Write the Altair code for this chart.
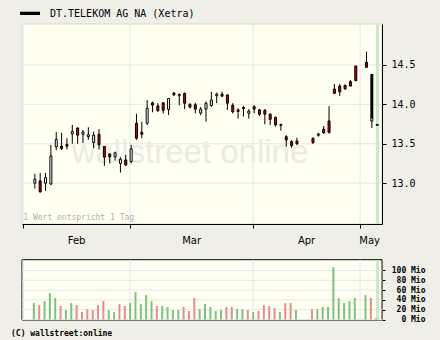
import altair as alt
import pandas as pd
import numpy as np

# ---------------- data ----------------
holidays = ["2006-04-14", "2006-04-17", "2006-05-01"]
dates = [d for d in pd.bdate_range("2006-02-03", "2006-05-04").strftime("%Y-%m-%d") if d not in holidays]

opens = [13.00, 13.03, 13.00, 12.99, 13.46, 13.47, 13.49, 13.625, 13.70, 13.62, 13.59, 13.515, 13.62, 13.465, 13.37, 13.335, 13.25, 13.295,
         13.275, 13.76, 13.645, 13.76, 14.02, 13.98, 14.02, 13.935, 14.145, 14.11, 14.14, 14.00, 13.995, 13.89, 13.94, 13.985, 14.11, 14.13, 14.12, 13.99, 13.93, 13.96, 13.887,
         13.97, 13.93, 13.925, 13.875, 13.835, 13.747, 13.59, 13.527, 13.535, 13.57, 13.608, 13.684, 13.79, 14.195, 14.233, 14.242, 14.288, 14.487,
         14.534, 13.79, 13.745]
closes = [13.05, 12.89, 13.07, 13.345, 13.555, 13.44, 13.47, 13.655, 13.61, 13.65, 13.615, 13.61, 13.485, 13.33, 13.335, 13.385, 13.305, 13.23,
          13.435, 13.57, 13.62, 13.95, 13.99, 13.92, 13.925, 14.075, 14.12, 14.125, 14.015, 13.965, 13.94, 13.94, 14.015, 14.055, 14.13, 14.105, 14.015, 13.905, 13.91, 13.945, 13.915,
          13.94, 13.875, 13.875, 13.81, 13.74, 13.735, 13.548, 13.476, 13.50, 13.514, 13.624, 13.64, 13.64, 14.14, 14.16, 14.195, 14.233, 14.30,
          14.47, 13.827, 13.735]
highs = [13.12, 13.13, 13.13, 13.485, 13.65, 13.64, 13.57, 13.74, 13.71, 13.675, 13.71, 13.655, 13.685, 13.47, 13.38, 13.40, 13.33, 13.36,
         13.485, 13.88, 13.78, 14.055, 14.035, 14.015, 14.025, 14.08, 14.155, 14.14, 14.15, 14.015, 14.02, 13.965, 14.035, 14.16, 14.15, 14.16, 14.12, 14.015, 13.95, 13.98, 13.94,
         13.99, 13.94, 13.94, 13.887, 13.845, 13.75, 13.61, 13.548, 13.58, 13.58, 13.64, 13.726, 13.98, 14.26, 14.26, 14.25, 14.31, 14.49,
         14.669, 13.827, 13.75]
lows = [12.93, 12.88, 12.90, 12.975, 13.42, 13.42, 13.43, 13.50, 13.50, 13.51, 13.55, 13.445, 13.43, 13.22, 13.25, 13.285, 13.135, 13.22,
        13.25, 13.55, 13.57, 13.74, 13.90, 13.905, 13.885, 13.865, 14.105, 13.99, 13.94, 13.95, 13.885, 13.865, 13.78, 13.97, 14.015, 14.09, 13.93, 13.885, 13.82, 13.845, 13.82,
        13.887, 13.853, 13.747, 13.738, 13.717, 13.666, 13.463, 13.45, 13.485, 13.50, 13.59, 13.624, 13.64, 14.14, 14.107, 14.19, 14.225, 14.30,
        14.47, 13.70, 13.73]
volumes = [33.5, 29.4, 37.6, 53.8, 43.7, 27.4, 19.3, 33.5, 29.4, 15.2, 21.3, 19.3, 29.4, 37.6, 19.3, 15.2, 31.5, 27.4,
           33.5, 55.8, 31.5, 49.7, 37.6, 27.4, 27.4, 25.4, 19.3, 19.3, 25.4, 17.3, 43.7, 21.3, 31.5, 25.4, 17.3, 19.3, 25.4, 25.4, 21.3, 21.3, 19.3,
           15.2, 17.3, 29.4, 27.4, 23.4, 15.2, 33.5, 33.5, 19.3, 21.3, 21.3, 25.4, 25.4, 106.6, 43.7, 33.5, 37.6, 43.7,
           49.7, 43.7, 3.0]
vol_dir = ["up", "down", "up", "up", "up", "down", "up", "up", "down", "down", "down", "down", "down", "down", "up", "up", "down", "down",
           "up", "up", "up", "up", "up", "down", "up", "up", "up", "up", "down", "down", "down", "up", "up", "up", "up", "up", "down", "down", "up", "up", "down",
           "up", "down", "down", "down", "down", "up", "down", "down", "up", "down", "up", "up", "up", "up", "up", "up", "up", "up",
           "up", "down", "down"]

# dividend markdown bar (3 May 2006)
div_date = ["2006-05-03"]
div_from = [14.386]
div_to = [13.827]

month_starts = ["2006-02-01", "2006-03-01", "2006-04-01", "2006-05-01"]
month_labels = ["Feb", "Mar", "Apr", "May"]
month_label_pos = [10.0, 31.5, 53.0, 64.8]
price_ticks = [13.0, 13.5, 14.0, 14.5]
vol_ticks = [0, 20, 40, 60, 80, 100]

title_text = "DT.TELEKOM AG NA (Xetra)"
note_text = "1 Wert entspricht 1 Tag"
copyright_text = "(C) wallstreet:online"
watermark_text = "wallstreet online"

# ---------------- frames ----------------
def slot(d):
    return int(np.busday_count("2006-02-01", d))

df = pd.DataFrame({"date": dates, "open": opens, "close": closes, "high": highs, "low": lows,
                   "vol": volumes, "dir": vol_dir})
df["x"] = [slot(d) + 0.2 for d in df["date"]]
df["body"] = np.where(df["close"] < df["open"], "#cc0000", "#ffffff")

div_df = pd.DataFrame({"x": [slot(d) + 0.2 for d in div_date], "a": div_from, "b": div_to})
last = df["x"].iloc[-1]
band_df = pd.DataFrame({"x1": [last - 0.2], "x2": [last + 0.35]})
ms_df = pd.DataFrame({"x": [slot(d) for d in month_starts]})
ml_df = pd.DataFrame({"x": month_label_pos, "t": month_labels})
pt_df = pd.DataFrame({"v": price_ticks})
vt_df = pd.DataFrame({"v": vol_ticks})
one = pd.DataFrame({"a": [0]})

W, H = 360, 296
PTOP, PBOT = 0, 200
VTOP, VBOT = 235.7, 296

BG = "#efefe7"
PANEL = "#fffff2"
GRID = "#e6e6ec"

xscale = alt.Scale(domain=[-0.2, 67.1], nice=False, zero=False, padding=0)
xaxis = alt.Axis(values=[0, 20, 43, 63], labels=False, grid=False, tickSize=4, tickColor="black",
                 domainColor="black", offset=-96, title=None, zindex=1)
X = alt.X("x:Q", scale=xscale, axis=xaxis)

pscale = alt.Scale(domain=[12.482, 15.02], range=[PBOT, PTOP], nice=False, zero=False, padding=0)
vscale = alt.Scale(domain=[0, 122], range=[295.5, VTOP], nice=False, zero=False, padding=0)

paxis = alt.Axis(orient="right", values=price_ticks, format=".1f", grid=False, tickSize=4,
                 tickColor="black", domainColor="black", labelFont="DejaVu Sans Mono",
                 labelFontSize=10, labelColor="black", labelPadding=5, title=None, zindex=1,
                 labelOverlap=False)
vaxis = alt.Axis(orient="right", values=vol_ticks, labelExpr="datum.value + ' Mio'", grid=False,
                 tickSize=3, tickColor="black", domain=False, labelFont="DejaVu Sans Mono",
                 labelFontWeight="bold", labelFontSize=8, labelColor="black", labelAlign="right",
                 labelPadding=40, title=None, zindex=1, labelOverlap=False)

base = alt.Chart(df)

canvas = alt.Chart(one).mark_rect(color=BG).encode(
    x=alt.value(-22), x2=alt.value(418), y=alt.value(-24), y2=alt.value(316))
top_bg = alt.Chart(one).mark_rect(fill=PANEL, stroke="#d6d6d0", strokeWidth=1).encode(
    x=alt.value(0), x2=alt.value(W), y=alt.value(PTOP), y2=alt.value(PBOT))
vol_bg = alt.Chart(one).mark_rect(fill=PANEL, stroke="black", strokeWidth=1).encode(
    x=alt.value(0), x2=alt.value(W), y=alt.value(VTOP), y2=alt.value(VBOT))

pgrid = alt.Chart(pt_df).mark_rule(color=GRID).encode(
    y=alt.Y("v:Q", scale=pscale, axis=None), x=alt.value(0), x2=alt.value(W))
vgrid = alt.Chart(vt_df).mark_rule(color=GRID).encode(
    y=alt.Y("v:Q", scale=vscale, axis=None), x=alt.value(0), x2=alt.value(W))
mgrid_top = alt.Chart(ms_df).mark_rule(color=GRID).encode(
    x=X, y=alt.value(PTOP), y2=alt.value(PBOT))
mgrid_vol = alt.Chart(ms_df).mark_rule(color=GRID).encode(
    x=X, y=alt.value(VTOP), y2=alt.value(VBOT))

band_top = alt.Chart(band_df).mark_rect(color="#c9e7c9").encode(
    x=alt.X("x1:Q", scale=xscale, axis=xaxis), x2="x2:Q", y=alt.value(PTOP + 0.5), y2=alt.value(PBOT))
band_vol = alt.Chart(band_df).mark_rect(color="#c9e7c9").encode(
    x=alt.X("x1:Q", scale=xscale, axis=xaxis), x2="x2:Q", y=alt.value(VTOP + 0.5), y2=alt.value(VBOT - 0.5))

watermark = alt.Chart(one).mark_text(text=watermark_text, font="Liberation Sans", fontSize=33,
                                     color="#ebebe4", align="center", baseline="alphabetic").encode(
    x=alt.value(168), y=alt.value(139))

wicks = base.mark_rule(color="black", strokeWidth=1).encode(
    x=X, y=alt.Y("low:Q", scale=pscale, axis=paxis), y2="high:Q")
bodies = base.mark_bar(size=2, stroke="black", strokeWidth=1).encode(
    x=X, y=alt.Y("open:Q", scale=pscale, axis=None), y2="close:Q",
    fill=alt.Color("body:N", scale=None))
divbar = alt.Chart(div_df).mark_bar(size=3, color="black").encode(
    x=X, y=alt.Y("a:Q", scale=pscale, axis=None), y2="b:Q")

vbars = base.mark_bar(size=2, xOffset=-1).encode(
    x=X, y=alt.Y("vol:Q", scale=vscale, axis=vaxis), y2=alt.datum(0),
    color=alt.Color("dir:N", scale=alt.Scale(domain=["up", "down"], range=["#7fc27f", "#e38e8e"]), legend=None))

leg_rect = alt.Chart(one).mark_rect(color="black").encode(
    x=alt.value(-2), x2=alt.value(18), y=alt.value(-12.3), y2=alt.value(-9))
leg_text = alt.Chart(one).mark_text(text=title_text, font="DejaVu Sans Mono", fontSize=10,
                                    color="black", align="left", baseline="middle").encode(
    x=alt.value(28), y=alt.value(-9.7))
note = alt.Chart(one).mark_text(text=note_text, font="DejaVu Sans Mono", fontSize=8,
                                color="#b0b0b0", align="left", baseline="middle").encode(
    x=alt.value(1.3), y=alt.value(194))
months = alt.Chart(ml_df).mark_text(font="DejaVu Sans", fontSize=10, color="black",
                                    align="center", baseline="middle").encode(
    x=X, y=alt.value(217), text="t:N")
copy = alt.Chart(one).mark_text(text=copyright_text, font="DejaVu Sans Mono", fontSize=8,
                                fontWeight="bold", color="black", align="left", baseline="middle").encode(
    x=alt.value(-11), y=alt.value(310))

chart = alt.layer(
    canvas, top_bg, vol_bg, pgrid, vgrid, mgrid_top, mgrid_vol, band_top, band_vol, watermark,
    wicks, bodies, divbar, vbars, leg_rect, leg_text, note, months, copy
).resolve_scale(y="independent").properties(
    width=W, height=H, padding=0, background=BG
).configure_view(strokeWidth=0)

chart.save("out.html", embed_options={"renderer": "svg", "actions": False})
